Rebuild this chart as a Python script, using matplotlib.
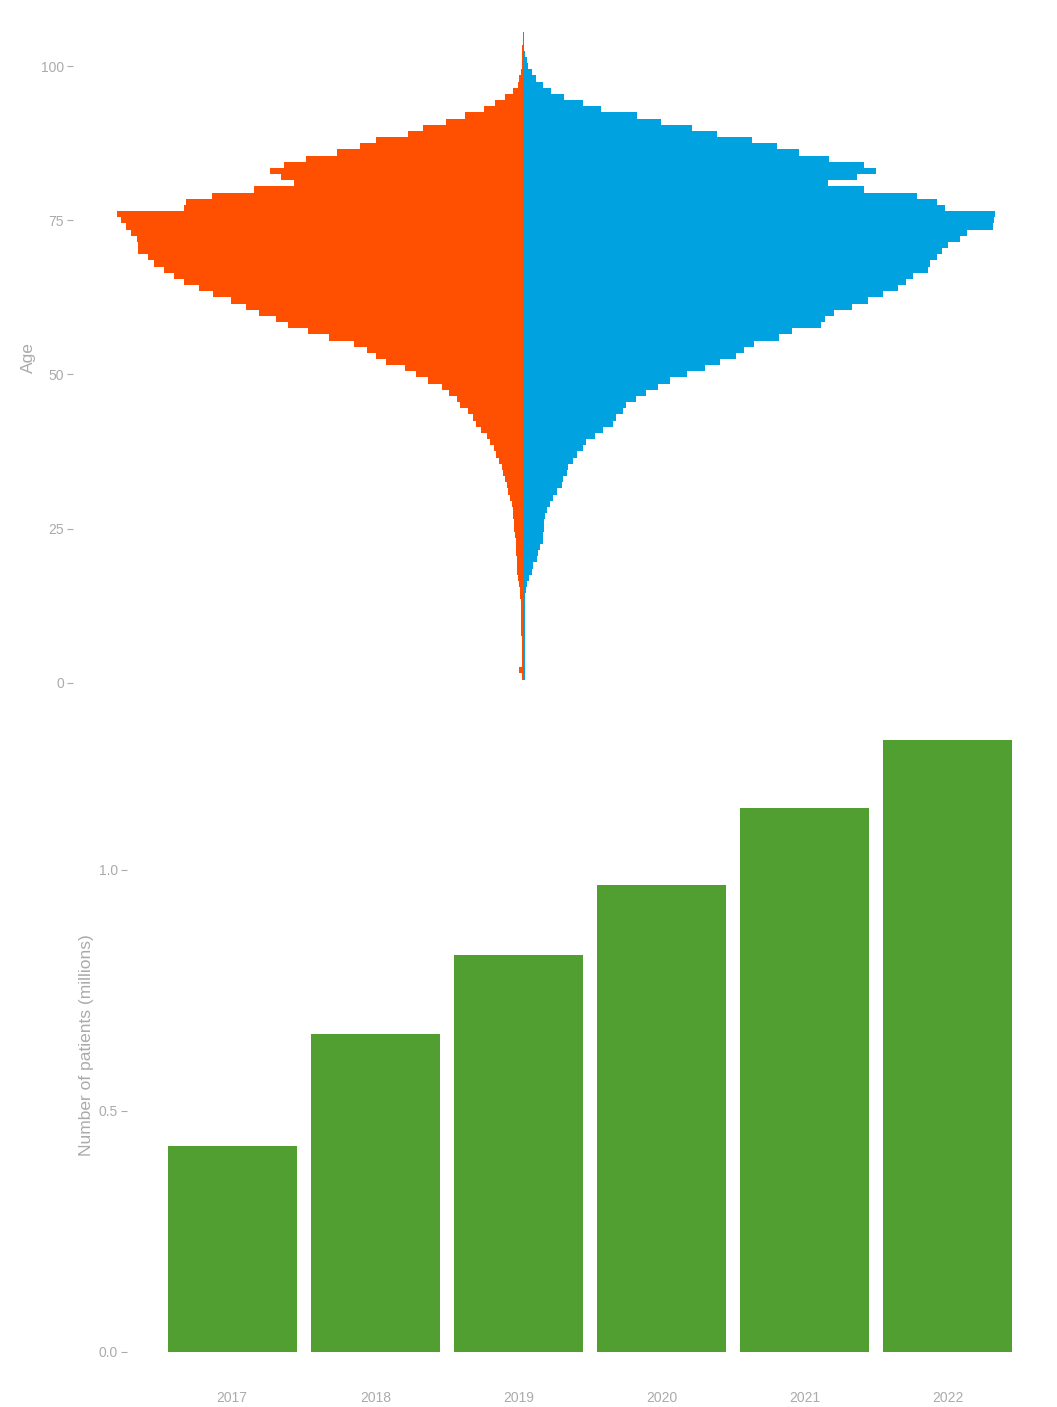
import matplotlib
matplotlib.use("Agg")
import matplotlib.pyplot as plt
import numpy as np

plt.rcParams['font.family'] = ['Liberation Sans', 'DejaVu Sans']

# ---------------- data ----------------
ages = list(range(0, 106))
female = [0, 1.5, 4, 1.5, 1.5, 1.5, 1.5, 1.5, 1.7, 1.7,
          1.7, 2, 2, 2.3, 2.7, 3, 4, 4.7, 5.7, 6.3,
          6.3, 6.7, 7, 7.3, 8, 8.7, 9, 9.7, 10.3, 11.3,
          13, 14.7, 16.3, 18, 19.7, 21.3, 23.7, 27, 29.5, 33,
          36.3, 42, 47, 50.3, 55.3, 63, 66.3, 73.7, 81.3, 94.7,
          107, 118, 137, 147, 155.7, 168.7, 194.3, 215.3, 234.7, 247,
          264, 277, 292.3, 309.7, 324.3, 339, 349, 358.7, 368.7, 374.7,
          385, 385, 386, 392, 397, 402, 406, 339, 337, 311,
          269, 229, 242, 253, 239, 217, 186, 163, 147, 115,
          100, 77, 58, 39, 28, 18, 10, 5, 4, 2,
          1.5, 1, 0.8, 0.6, 0.4, 0.3]
male = [0, 2, 2, 2, 2, 2, 2, 2, 2, 2,
        2.3, 2.3, 2.3, 2.3, 2.3, 2.7, 3.7, 6.3, 8.7, 10.3,
        13.7, 15.3, 17, 19.7, 20.3, 21, 21.3, 22, 23.7, 27,
        30.3, 33.7, 38.7, 40.3, 43.7, 45.3, 50, 54, 60.3, 62.5,
        72, 80.3, 89.7, 93, 99.7, 102.7, 113.3, 123, 134.7, 147,
        163.7, 182, 197, 212.7, 220.7, 231.3, 256, 268.7, 297.7, 302,
        311, 328.7, 344.7, 360.3, 374.7, 382.7, 389.7, 405.3, 407, 413.7,
        419.3, 425.3, 437, 444, 470, 471, 472, 422, 414, 394,
        341, 305, 334, 353, 341, 306, 276, 254, 229, 194,
        169, 138, 114, 78, 60, 41, 28, 20, 13, 9,
        5, 3.7, 2, 1.3, 0.8, 0.5]
age_ticks = [0, 25, 50, 75, 100]

years = ["2017", "2018", "2019", "2020", "2021", "2022"]
patients = [0.427, 0.660, 0.824, 0.969, 1.129, 1.270]
patient_ticks = [0.0, 0.5, 1.0]

# ---------------- style ----------------
ORANGE = "#FF4F00"
BLUE = "#00A2DF"
GREEN = "#519E31"
GREY = "#ABABAB"

W, H = 1057, 1407
fig = plt.figure(figsize=(W / 100, H / 100), dpi=100)
fig.patch.set_facecolor("white")


def px_axes(left, top, right, bottom):
    return fig.add_axes([left / W, 1 - bottom / H, (right - left) / W, (bottom - top) / H])


# ---------------- pyramid ----------------
ax1 = px_axes(73, 0, 1039, 718)
ax1.barh(ages, [-v for v in female], height=1.0, color=ORANGE, linewidth=0)
ax1.barh(ages, male, height=1.0, color=BLUE, linewidth=0)
ax1.set_xlim(-450, 516)
ax1.set_ylim(-5.74, 110.74)
ax1.set_yticks(age_ticks)
ax1.set_yticklabels([str(t) for t in age_ticks])
ax1.set_xticks([])
for s in ax1.spines.values():
    s.set_visible(False)
ax1.tick_params(axis='y', length=4, width=0.8, color=GREY, labelcolor=GREY,
                labelsize=10, pad=2.5)
fig.text(28 / W, 1 - 358 / H, "Age", rotation=90, ha='center', va='center',
         color=GREY, fontsize=12.5)

# ---------------- bar chart ----------------
ax2 = px_axes(127, 718, 1053, 1383)
xpos = np.arange(1, len(years) + 1)
ax2.bar(xpos, patients, width=0.9, color=GREEN, linewidth=0)
ax2.set_xlim(1 - 0.734, len(years) + 0.734)
ax2.set_ylim(-0.0643, 1.315)
ax2.set_xticks(xpos)
ax2.set_xticklabels(years)
ax2.set_yticks(patient_ticks)
ax2.set_yticklabels([f"{t:.1f}" for t in patient_ticks])
for s in ax2.spines.values():
    s.set_visible(False)
ax2.tick_params(axis='y', length=4, width=0.8, color=GREY, labelcolor=GREY,
                labelsize=10, pad=2.5)
ax2.tick_params(axis='x', length=0, labelcolor=GREY, labelsize=10, pad=6)
fig.text(87 / W, 1 - 1045 / H, "Number of patients (millions)", rotation=90,
         ha='center', va='center', color=GREY, fontsize=12.5)

fig.savefig("out.png", dpi=100, facecolor="white")
